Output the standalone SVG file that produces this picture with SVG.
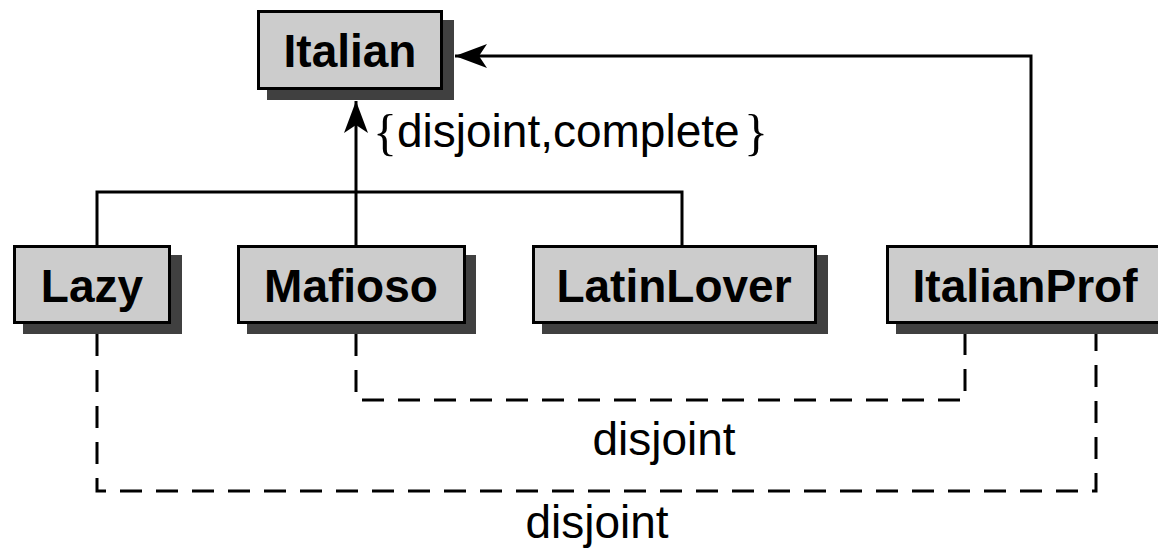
<svg xmlns="http://www.w3.org/2000/svg" width="1158" height="551" viewBox="0 0 1158 551">
<style>
.shadow{fill:#404040}
.box{fill:#cccccc;stroke:#000;stroke-width:3}
.lbl{font-family:"Liberation Sans",Arial,sans-serif;font-weight:bold;font-size:46px;text-anchor:middle;fill:#000}
.txt{font-family:"Liberation Sans",Arial,sans-serif;font-size:46px;fill:#000}
.br{font-family:"Liberation Serif","Times New Roman",serif;font-size:50px;fill:#000}
.line{fill:none;stroke:#000;stroke-width:3}
.dash{fill:none;stroke:#000;stroke-width:3;stroke-dasharray:22 14}
</style>
<defs>
<marker id="arr" viewBox="-33 -13 35 26" refX="0" refY="0" markerWidth="35" markerHeight="26" markerUnits="userSpaceOnUse" orient="auto">
<path d="M0,0 L-32,-12 L-24,0 L-32,12 Z" fill="#000"/>
</marker>
</defs>
<g id="connectors">
<polyline class="line" points="97,245 97,192 682,192 682,245"/>
<polyline class="line" points="356,245 356,101" marker-end="url(#arr)"/>
<polyline class="line" points="1031,245 1031,56 455,56" marker-end="url(#arr)"/>
<polyline class="dash" points="356,334 356,400 965,400 965,334"/>
<polyline class="dash" points="97,334 97,491 1096,491 1096,334"/>
</g>
<g id="Italian">
<rect class="shadow" x="267" y="20" width="187" height="80"/>
<rect class="box" x="258.5" y="11.5" width="183" height="77"/>
<text class="lbl" x="350" y="67">Italian</text>
</g>
<g id="Lazy">
<rect class="shadow" x="23" y="255" width="159" height="79"/>
<rect class="box" x="14.5" y="246.5" width="155" height="76"/>
<text class="lbl" x="92" y="302">Lazy</text>
</g>
<g id="Mafioso">
<rect class="shadow" x="247" y="255" width="229" height="79"/>
<rect class="box" x="238.5" y="246.5" width="226" height="76"/>
<text class="lbl" x="351" y="302">Mafioso</text>
</g>
<g id="LatinLover">
<rect class="shadow" x="542" y="255" width="286" height="79"/>
<rect class="box" x="533.5" y="246.5" width="282" height="76"/>
<text class="lbl" x="674" y="302">LatinLover</text>
</g>
<g id="ItalianProf">
<rect class="shadow" x="896" y="255" width="280" height="79"/>
<rect class="box" x="887.5" y="246.5" width="276" height="76"/>
<text class="lbl" x="1025" y="302">ItalianProf</text>
</g>
<g id="labels">
<text class="br" x="373" y="149">{</text>
<text class="txt" x="397" y="147">disjoint,complete</text>
<text class="br" x="744" y="149">}</text>
<text class="txt" x="664" y="455" text-anchor="middle">disjoint</text>
<text class="txt" x="597" y="538" text-anchor="middle">disjoint</text>
</g>
</svg>
